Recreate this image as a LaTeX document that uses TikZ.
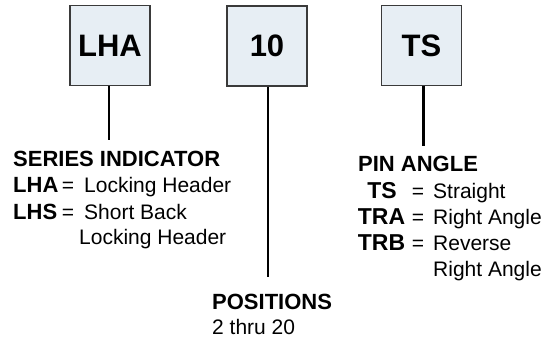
\documentclass[tikz,border=0pt]{standalone}
\usepackage{fontspec}
\setmainfont{Liberation Sans}
\definecolor{boxfill}{HTML}{E7EEF4}
\definecolor{boxborder}{HTML}{3A3A3A}
\begin{document}
\begin{tikzpicture}[x=1pt,y=-1pt,
  box/.style={draw=boxborder, fill=boxfill, line width=1.1pt, minimum width=80pt, minimum height=80pt, inner sep=0pt, font=\fontsize{31}{31}\selectfont\bfseries},
  conn/.style={line width=2.2pt},
  head/.style={anchor=base west, inner sep=0pt, font=\fontsize{22}{22}\selectfont\bfseries},
  txt/.style={anchor=base west, inner sep=0pt, font=\fontsize{21}{21}\selectfont},
  lbl/.style={anchor=base, inner sep=0pt, font=\fontsize{23}{23}\selectfont\bfseries},
  eq/.style={anchor=base, inner sep=0pt, font=\fontsize{21}{21}\selectfont}]
\useasboundingbox (0,0) rectangle (554,339);
% boxes
\node[box] (lha) at (110,45.5) {LHA};
\node[box] (pos) at (267,46) {10};
\node[box] (ts) at (421.5,45.5) {TS};
% connectors
\coordinate (lhaend) at (109,140);
\coordinate (posend) at (268,277);
\coordinate (tsend) at (423.5,146);
\draw[conn] (lha.south -| lhaend) -- (lhaend);
\draw[conn] (pos.south -| posend) -- (posend);
\draw[conn] (ts.south -| tsend) -- (tsend);
% series indicator
\node[head] (series) at (13,167) {SERIES INDICATOR};
\node[lbl, anchor=base west, font=\fontsize{22}{22}\selectfont\bfseries] (lhalbl) at (13,193) {LHA};
\node[eq] (lhaeq) at (68,193) {=};
\node[txt] (lhatxt) at (84,193) {Locking Header};
\node[lbl, anchor=base west, font=\fontsize{22}{22}\selectfont\bfseries] (lhslbl) at (13,219) {LHS};
\node[eq] (lhseq) at (68,219) {=};
\node[txt] (lhstxt) at (84,219) {Short Back};
\node[txt] (lhstxt2) at (79,244) {Locking Header};
% pin angle
\node[head] (pin) at (358,172) {PIN ANGLE};
\node[lbl] (tslbl) at (382,199) {TS};
\node[eq] (tseq) at (418,199) {=};
\node[txt] (tstxt) at (433,199) {Straight};
\node[lbl] (tralbl) at (381.5,225) {TRA};
\node[eq] (traeq) at (418,225) {=};
\node[txt] (tratxt) at (433,225) {Right Angle};
\node[lbl] (trblbl) at (381.5,251) {TRB};
\node[eq] (trbeq) at (418,251) {=};
\node[txt] (trbtxt) at (433,251) {Reverse};
\node[txt] (trbtxt2) at (433,276) {Right Angle};
% positions
\node[head] (positions) at (212,309) {POSITIONS};
\node[txt] (postxt) at (212,334) {2 thru 20};
\end{tikzpicture}
\end{document}
